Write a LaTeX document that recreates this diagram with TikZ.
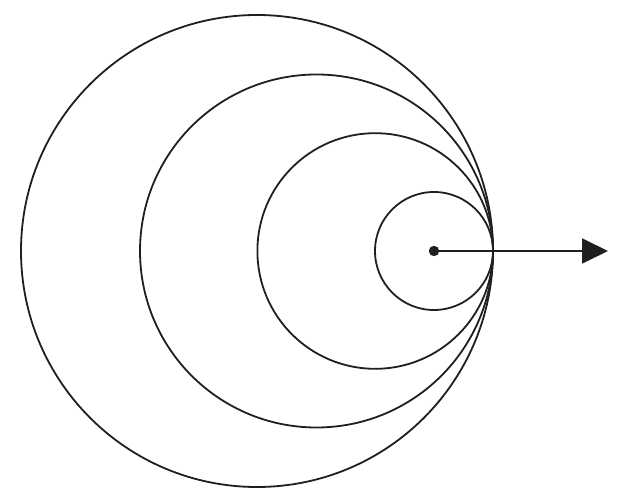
\documentclass[tikz,border=0pt]{standalone}
\usetikzlibrary{arrows.meta}
\begin{document}
\begin{tikzpicture}[x=1pt,y=-1pt,
  ring/.style={draw=black!88,line width=1.8pt},
  pointer/.style={draw=black!88,line width=1.8pt,-{Triangle[length=26pt,width=25pt]}}]
\useasboundingbox (0,0) rectangle (629,502);
\draw[ring] (257,251) circle[radius=236];
\draw[ring] (316.5,251) circle[radius=176.5];
\draw[ring] (375.2,251) circle[radius=117.8];
\draw[ring] (434,251) circle[radius=59];
\coordinate (C) at (434,251);
\coordinate (E) at (608,251);
\fill[black!88] (C) circle[radius=5.2];
\draw[pointer] (C) -- (E);
\end{tikzpicture}
\end{document}
